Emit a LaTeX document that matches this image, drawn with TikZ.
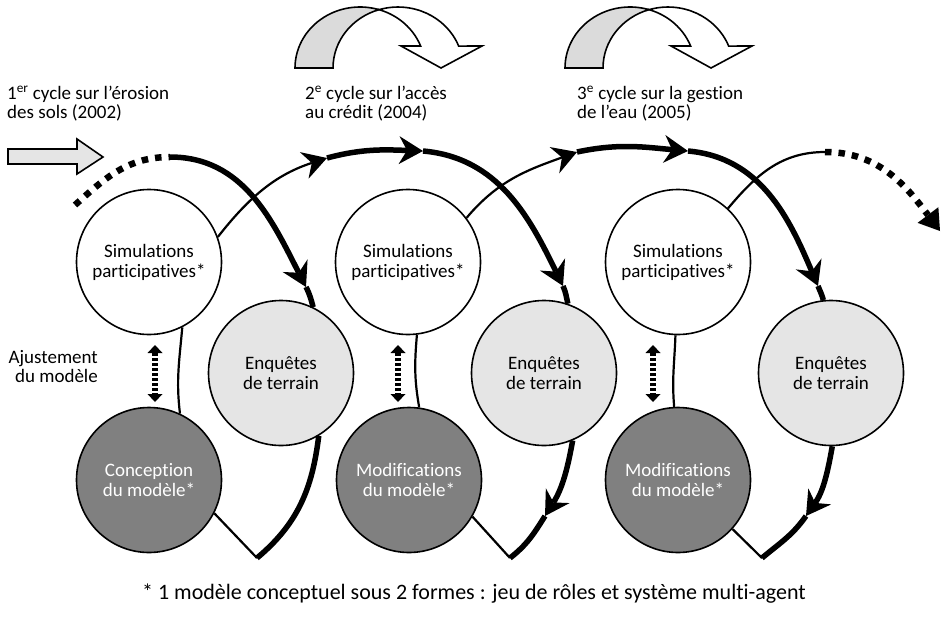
\documentclass[tikz,border=0pt]{standalone}
\usepackage{fontspec}
\setmainfont{Carlito}[Ligatures=CommonOff]
\usetikzlibrary{arrows.meta}
\definecolor{lightg}{gray}{0.9}
\definecolor{bandg}{gray}{0.86}
\definecolor{darkg}{gray}{0.5}
\begin{document}
\begin{tikzpicture}[x=1pt,y=1pt,
  bubble/.style={circle,draw,line width=1.6pt,minimum size=145pt,inner sep=0pt,align=center,font=\fontsize{19}{20}\selectfont},
  simc/.style={bubble,fill=white},
  enqc/.style={bubble,fill=lightg},
  modc/.style={bubble,fill=darkg,text=white},
  thinl/.style={line width=2.2pt},
  thickl/.style={line width=5.5pt},
  dotl/.style={line width=6.5pt,dash pattern=on 6.5pt off 7pt},
  hd/.style={-{Stealth[length=24pt,width=28pt,inset=8pt,line width=0pt]}},
  lbl/.style={font=\fontsize{19}{20}\selectfont,inner sep=0pt},
  block/.style={draw,line width=1.6pt,line join=miter},
  adjarr/.style={line width=6pt,dash pattern=on 2.5pt off 2.5pt,{Triangle[length=8pt,width=15pt,line width=0pt]}-{Triangle[length=8pt,width=15pt,line width=0pt]}}
]
\useasboundingbox (0,0) rectangle (947,-616);

% circles
\node[simc] (sim1) at (149,-262) {Simulations\\participatives*};
\node[enqc] (enq1) at (281,-373) {Enquêtes\\de terrain};
\node[modc] (mod1) at (149,-480) {Conception\\du modèle*};
\node[simc] (sim2) at (408,-262) {Simulations\\participatives*};
\node[enqc] (enq2) at (544,-373) {Enquêtes\\de terrain};
\node[modc] (mod2) at (409,-480) {Modifications\\du modèle*};
\node[simc] (sim3) at (678,-262) {Simulations\\participatives*};
\node[enqc] (enq3) at (831,-373) {Enquêtes\\de terrain};
\node[modc] (mod3) at (678,-480) {Modifications\\du modèle*};

% labels
\node[lbl,anchor=base west] (lab1a) at (7,-99) {1\textsuperscript{er} cycle sur l’érosion};
\node[lbl,anchor=base west] (lab1b) at (7,-118) {des sols (2002)};
\node[lbl,anchor=base west] (lab2a) at (305,-99) {2\textsuperscript{e} cycle sur l’accès};
\node[lbl,anchor=base west] (lab2b) at (305,-118) {au crédit (2004)};
\node[lbl,anchor=base west] (lab3a) at (577,-99) {3\textsuperscript{e} cycle sur la gestion};
\node[lbl,anchor=base west] (lab3b) at (577,-118) {de l’eau (2005)};
\node[lbl,anchor=base east] (adja) at (98,-363) {Ajustement};
\node[lbl,anchor=base east] (adjb) at (98,-382) {du modèle};
\node[lbl,anchor=base,font=\fontsize{22}{24}\selectfont] (note) at (474,-599) {* 1 modèle conceptuel sous 2 formes : jeu de rôles et système multi-agent};

% coordinates
\coordinate (d1s) at (75,-205);
\coordinate (t1) at (170,-157);
\coordinate (a1) at (306,-287);
\coordinate (b1) at (257,-558);
\coordinate (a2a) at (327,-158);
\coordinate (a2b) at (423,-151);
\coordinate (a2c) at (563,-286);
\coordinate (a2d) at (545,-516);
\coordinate (b2) at (510,-558);
\coordinate (a3a) at (577,-152);
\coordinate (a3b) at (688,-151);
\coordinate (a3c) at (818,-286);
\coordinate (a3d) at (806,-516);
\coordinate (b3) at (762,-558);
\coordinate (t4) at (825,-152);
\coordinate (e4) at (940,-231);

% thin incoming arcs
\draw[thinl,hd] (sim1.20) to[out=52,in=198] (a2a);
\draw[thinl,hd] (sim2.37) to[out=50,in=200] (a3a);
\draw[thinl] (sim3.47) to[out=50,in=180] (t4);
\draw[dotl,-{Triangle[length=20pt,width=26pt,line width=0pt]}] (t4) to[out=0,in=127] (e4);

% cycle 1
\draw[dotl] (d1s) to[out=42,in=180] (t1);
\draw[thickl,hd] (t1) to[out=0,in=117] (a1);
\draw[thickl] (a1) to[out=-63,in=105] (enq1.64);
\draw[thickl] (enq1.-59) to[out=-97,in=40] (b1);
\draw[thinl] (b1) -- (mod1.-27);
\draw[thinl] (mod1.65) to[out=97,in=-95] (sim1.-63);

% cycle 2
\draw[thickl,hd] (a2a) to[out=15,in=178] (a2b);
\draw[thickl,hd] (a2b) to[out=-5,in=116] (a2c);
\draw[thickl] (a2c) to[out=-66,in=103] (enq2.71);
\draw[thickl,hd] (enq2.-67) to[out=-100,in=58] (a2d);
\draw[thickl] (a2d) to[out=-122,in=38] (b2);
\draw[thinl] (b2) -- (mod2.-30);
\draw[thinl] (mod2.82) to[out=100,in=-95] (sim2.-83);

% cycle 3
\draw[thickl,hd] (a3a) to[out=12,in=175] (a3b);
\draw[thickl,hd] (a3b) to[out=-5,in=113] (a3c);
\draw[thickl] (a3c) to[out=-68,in=105] (enq3.96);
\draw[thickl,hd] (enq3.-89) to[out=-100,in=55] (a3d);
\draw[thickl] (a3d) to[out=-125,in=40] (b3);
\draw[thinl] (b3) -- (mod3.-42);
\draw[thinl] (mod3.93) to[out=95,in=-92] (sim3.-92);

% adjustment arrows
\coordinate (j1a) at (155,-345); \coordinate (j1b) at (155,-402);
\coordinate (j2a) at (398,-345); \coordinate (j2b) at (398,-402);
\coordinate (j3a) at (653,-345); \coordinate (j3b) at (653,-402);
\draw[adjarr] (j1a) -- (j1b);
\draw[adjarr] (j2a) -- (j2b);
\draw[adjarr] (j3a) -- (j3b);

% entry block arrow
\draw[block,fill=lightg] (8,-149) -- (77,-149) -- (77,-139) -- (103,-157) -- (77,-174) -- (77,-164) -- (8,-164) -- cycle;

% twisted arrows
\foreach \dx in {0,270}{
\begin{scope}[xshift=\dx pt]
  \draw[block,fill=bandg] (295,-68) arc[start angle=180,end angle=73,x radius=65,y radius=61]
     arc[start angle=107,end angle=180,x radius=65,y radius=61] -- cycle;
  \draw[block,fill=white] (379,-9.7) arc[start angle=107,end angle=21.1,x radius=65,y radius=61]
     -- (482,-46) -- (441,-68) -- (401,-46) -- (420.6,-46)
     arc[start angle=21.1,end angle=73,x radius=65,y radius=61] -- cycle;
\end{scope}
}
\end{tikzpicture}
\end{document}
